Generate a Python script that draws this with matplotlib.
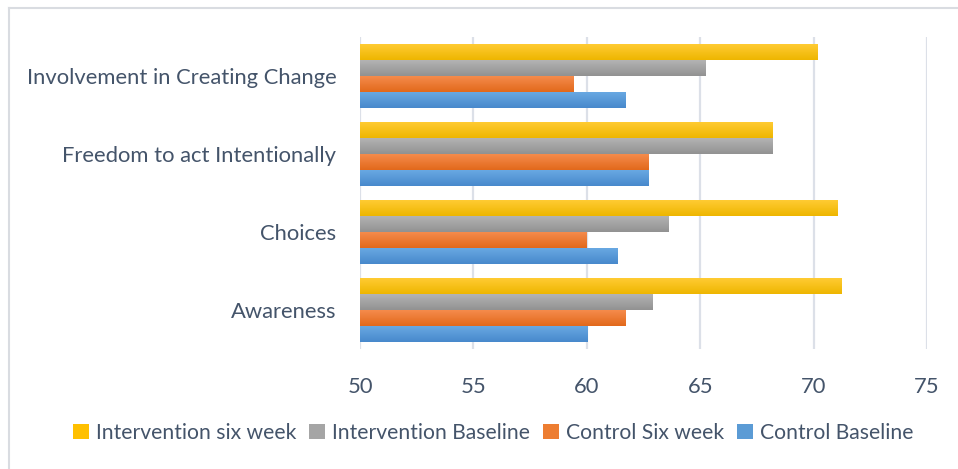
import numpy as np
import matplotlib
matplotlib.use("Agg")
import matplotlib.pyplot as plt
from matplotlib.colors import LinearSegmentedColormap
from matplotlib.lines import Line2D
from matplotlib.patches import Patch

categories = ["Awareness", "Choices", "Freedom to act Intentionally",
              "Involvement in Creating Change"]
series = ["Intervention six week", "Intervention Baseline",
          "Control Six week", "Control Baseline"]
intervention_six = [71.25, 71.05, 68.2, 70.15]
intervention_base = [62.9, 63.6, 68.2, 65.25]
control_six = [61.7, 60.0, 62.7, 59.4]
control_base = [60.05, 61.35, 62.7, 61.7]
values = [intervention_six, intervention_base, control_six, control_base]
xticks = [50, 55, 60, 65, 70, 75]

# top / bottom of the vertical gradient, base colour for legend
grads = [("#FFCB33", "#EEB600", "#FFC000"),
         ("#B3B3B3", "#929292", "#A5A5A5"),
         ("#F58B4C", "#E2691B", "#ED7D31"),
         ("#68A8E2", "#4889CC", "#5B9BD5")]

txt = "#44546A"
fs = 15.8
plt.rcParams['font.family'] = ['Lato', 'DejaVu Sans']

fig = plt.figure(figsize=(9.58, 4.69), dpi=100)
ax = fig.add_axes([360/958, 1 - 349/469, 567/958, 312/469])

h = 0.205
y = np.arange(len(categories))
for i, vals in enumerate(values):
    top, bot, base = grads[i]
    cmap = LinearSegmentedColormap.from_list("g%d" % i, [bot, top])
    bars = ax.barh(y + (1.5 - i) * h, np.array(vals) - 50, left=50,
                   height=h, color=base, zorder=2)
    for b in bars:
        x0, y0 = b.get_x(), b.get_y()
        im = ax.imshow(np.linspace(0, 1, 64).reshape(-1, 1), cmap=cmap,
                       aspect='auto', origin='lower', zorder=3,
                       extent=[x0, x0 + b.get_width(), y0, y0 + b.get_height()])
        im.set_clip_path(b)

ax.set_xlim(50, 75)
ax.set_ylim(-0.5, 3.5)
ax.set_aspect('auto')
ax.set_xticks(xticks)
ax.set_yticks(y)
ax.set_yticklabels(categories)
ax.grid(axis='x', color="#DCE0E8", linewidth=1.6, zorder=0)
ax.set_axisbelow(True)
for s in ax.spines.values():
    s.set_visible(False)
ax.tick_params(length=0, labelsize=fs, colors=txt)
ax.tick_params(axis='x', pad=20)
ax.tick_params(axis='y', pad=17)

handles = [Patch(facecolor=g[2]) for g in grads]
fig.legend(handles, series, loc='center', bbox_to_anchor=(0.515, 1 - 433/469),
           ncol=4, frameon=False, fontsize=15.2, handlelength=0.75,
           handleheight=0.75, handletextpad=0.35, columnspacing=0.6,
           labelcolor=txt)

# chart area border (left / top visible)
fig.add_artist(Line2D([8.5/958, 8.5/958], [0, 1 - 8.5/469],
                      transform=fig.transFigure, color="#D9DCE1", lw=1.5))
fig.add_artist(Line2D([8.5/958, 1], [1 - 8.5/469, 1 - 8.5/469],
                      transform=fig.transFigure, color="#D9DCE1", lw=1.5))

fig.savefig("out.png", dpi=100)
